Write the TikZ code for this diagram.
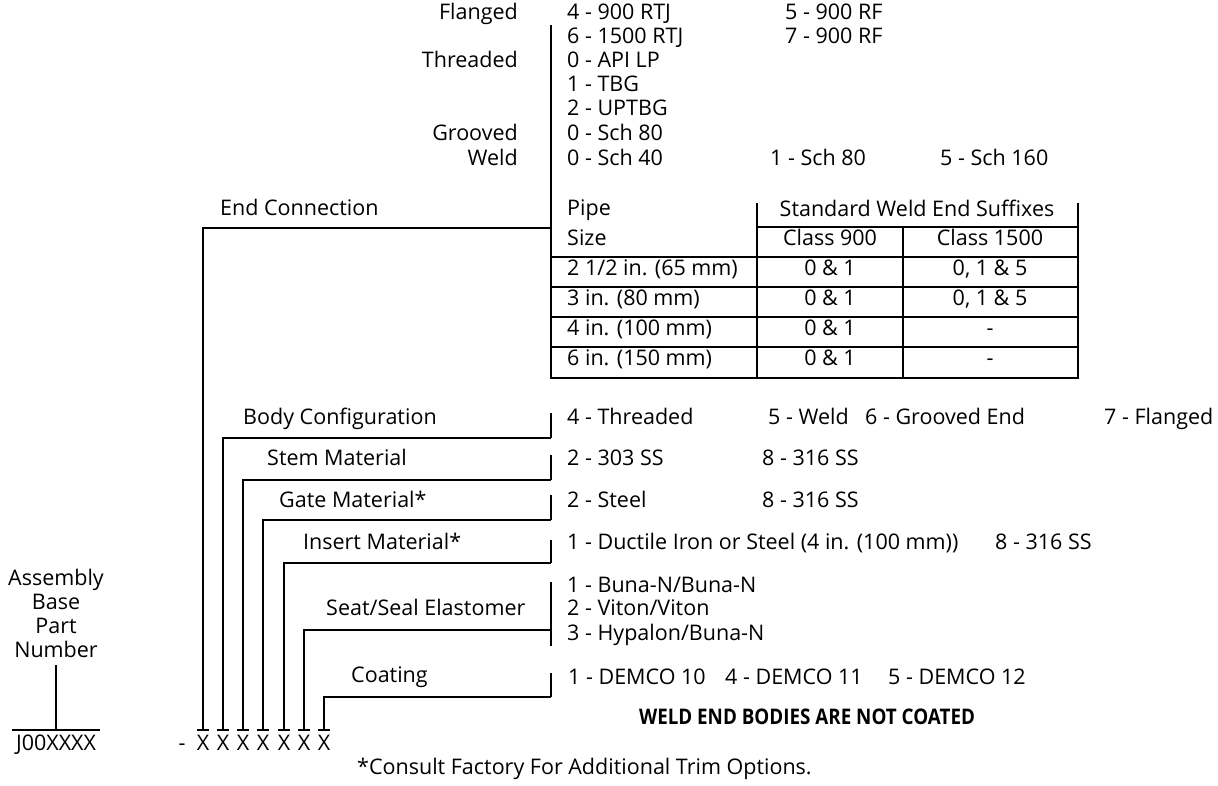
\documentclass[tikz,border=0pt]{standalone}
\usepackage{fontspec}
\setmainfont{Open Sans}
\begin{document}
\begin{tikzpicture}[x=1pt,y=-1pt,
  every node/.style={inner sep=0pt, font=\fontsize{21.5}{24}\selectfont},
  lt/.style={anchor=mid west}, rt/.style={anchor=mid east}, ct/.style={anchor=mid},
  ln/.style={line width=1.8pt},
  thin/.style={line width=1.1pt},
  outer/.style={line width=2.2pt}]
\useasboundingbox (0,0) rectangle (1218,785);
% ---------- top: end connection options
\node[rt] (fl) at (518,17) {Flanged};
\node[rt] (th) at (518,65) {Threaded};
\node[rt] (gr) at (518,138) {Grooved};
\node[rt] (we) at (518,163) {Weld};
\node[lt] (a1) at (567,17) {4 - 900 RTJ};
\node[lt] (a2) at (567,41) {6 - 1500 RTJ};
\node[lt] (a3) at (567,65) {0 - API LP};
\node[lt] (a4) at (567,89) {1 - TBG};
\node[lt] (a5) at (567,113) {2 - UPTBG};
\node[lt] (a6) at (567,138) {0 - Sch 80};
\node[lt] (a7) at (567,163) {0 - Sch 40};
\node[lt] (b1) at (785,17) {5 - 900 RF};
\node[lt] (b2) at (785,41) {7 - 900 RF};
\node[lt] (b7) at (770,163) {1 - Sch 80};
\node[lt] (c7) at (940,163) {5 - Sch 160};
% ---------- table
\coordinate (vtop) at (551,25);
\coordinate (tbl) at (551,378);
\coordinate (tbr) at (1078,378);
\coordinate (ttr) at (1078,203);
\draw[outer] (vtop) -- (tbl) -- (tbr) -- (ttr);
\draw[thin] (757,203) -- (757,378);
\draw[thin] (903,227) -- (903,378);
\draw[thin] (757,227) -- (1078,227);
\foreach \yy in {257,287,317,347} \draw[thin] (551,\yy) -- (1078,\yy);
\node[lt] (pipe) at (567,213) {Pipe};
\node[lt] (size) at (567,243) {Size};
\node[ct] (swe) at (917,214) {Standard Weld End Suffixes};
\node[ct] (c900) at (830,243) {Class 900};
\node[ct] (c1500) at (990,243) {Class 1500};
\node[lt] (r1) at (567,273) {2 1/2 in. (65 mm)};
\node[lt] (r2) at (567,303) {3 in. (80 mm)};
\node[lt] (r3) at (567,333) {4 in. (100 mm)};
\node[lt] (r4) at (567,363) {6 in. (150 mm)};
\node[ct] (r1a) at (830,273) {0 \& 1};
\node[ct] (r2a) at (830,303) {0 \& 1};
\node[ct] (r3a) at (830,333) {0 \& 1};
\node[ct] (r4a) at (830,363) {0 \& 1};
\node[ct] (r1b) at (990,273) {0, 1 \& 5};
\node[ct] (r2b) at (990,303) {0, 1 \& 5};
\node[ct] (r3b) at (990,333) {-};
\node[ct] (r4b) at (990,363) {-};
% ---------- category labels
\node[lt] (ec) at (220,213) {End Connection};
\node[lt] (bc) at (243,422) {Body Configuration};
\node[lt] (sm) at (267,463) {Stem Material};
\node[lt] (gm) at (279,505) {Gate Material*};
\node[lt] (im) at (303,547) {Insert Material*};
\node[lt] (se) at (326,613) {Seat/Seal Elastomer};
\node[lt] (co) at (351,680) {Coating};
% ---------- options
\node[lt] (bc1) at (567,422) {4 - Threaded};
\node[lt] (bc2) at (768,422) {5 - Weld};
\node[lt] (bc3) at (865,422) {6 - Grooved End};
\node[lt] (bc4) at (1104,422) {7 - Flanged};
\node[lt] (sm1) at (567,463) {2 - 303 SS};
\node[lt] (sm2) at (762,463) {8 - 316 SS};
\node[lt] (gm1) at (567,505) {2 - Steel};
\node[lt] (gm2) at (762,505) {8 - 316 SS};
\node[lt] (im1) at (567,547) {1 - Ductile Iron or Steel (4 in. (100 mm))};
\node[lt] (im2) at (995,547) {8 - 316 SS};
\node[lt] (se1) at (567,590) {1 - Buna-N/Buna-N};
\node[lt] (se2) at (567,613) {2 - Viton/Viton};
\node[lt] (se3) at (567,638) {3 - Hypalon/Buna-N};
\node[lt] (co1) at (568,682) {1 - DEMCO 10};
\node[lt] (co2) at (725,682) {4 - DEMCO 11};
\node[lt] (co3) at (888,682) {5 - DEMCO 12};
\node[ct, font=\fontsize{21.5}{24}\selectfont\bfseries] (wnc) at (807,722) {\scalebox{0.875}[1]{WELD END BODIES ARE NOT COATED}};
\node[lt] (cf) at (357,772) {*Consult Factory For Additional Trim Options.};
% ---------- part number
\node[anchor=center, align=center] (abpn) at (56,613) {Assembly\\Base\\Part\\Number};
\node[ct] (j0) at (56,748) {J00XXXX};
\node[ct] (dash) at (182,748) {-};
\coordinate (jtop) at (56,665);
\coordinate (jb) at (56,730);
\coordinate (jl) at (12,730);
\coordinate (jr) at (100,730);
\draw[ln] (jtop) -- (jb);
\draw[ln] (jl) -- (jr);
% X digits and branch lines
\foreach \i/\xx/\yy in {1/203/228, 2/223/438, 3/243/480, 4/263/520, 5/284/563, 6/304/630, 7/324/697} {
  \node[ct] (X\i) at (\xx,748) {X};
  \coordinate (k\i) at (\xx,730);
  \coordinate (h\i) at (\xx,\yy);
  \coordinate (e\i) at (551,\yy);
  \draw[ln] (k\i) -- (h\i) -- (e\i);
  \draw[ln] ([xshift=-6pt]k\i) -- ([xshift=6pt]k\i);
}
% right-hand ticks
\draw[ln] (551,413) -- (e2);
\draw[ln] (551,455) -- (e3);
\draw[ln] (551,495) -- (e4);
\draw[ln] (551,540) -- (e5);
\draw[ln] (551,582) -- (551,646);
\draw[ln] (551,673) -- (e7);
\end{tikzpicture}
\end{document}
